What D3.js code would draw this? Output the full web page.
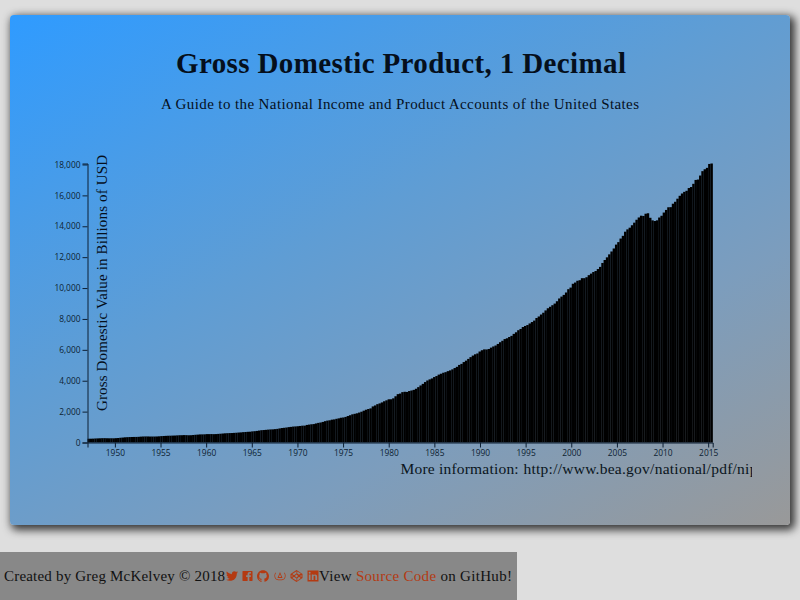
<!DOCTYPE html>
<html>
<head>
<meta charset="utf-8">
<script src="https://d3js.org/d3.v7.min.js"></script>
<style>
html,body{margin:0;padding:0;width:800px;height:600px;overflow:hidden;background:#dedede;}
#card{position:absolute;left:10px;top:15px;width:780px;height:510px;border-radius:4px;
 background:linear-gradient(152deg,#2f9bff 0%,#5f9dd4 42%,#7c9dbd 70%,#999 100%);
 box-shadow:3px 3px 8px 2px rgba(0,0,0,.75);}
#chart{position:absolute;left:0;top:0;}
#footer{position:absolute;left:0;top:552px;width:517px;height:48px;background:#888;
 font-family:"Liberation Serif",serif;font-size:15px;color:#111;}
#footer span.t{position:absolute;top:16px;white-space:nowrap;letter-spacing:0.2px;}
#footer span.v{letter-spacing:0.31px;}
#footer a{color:#b43a12;text-decoration:none;}
#footer svg{position:absolute;fill:#b43a12;}
</style>
</head>
<body>
<div id="card"></div>
<svg id="chart" width="800" height="600"></svg>
<div id="footer"></div>
<script>
const titleText = "Gross Domestic Product, 1 Decimal";
const subtitleText = "A Guide to the National Income and Product Accounts of the United States";
const yLabelText = "Gross Domestic Value in Billions of USD";
const infoPrefix = "More information:";
const infoUrl = "http://www.bea.gov/national/pdf/nipaguid.pdf";
const firstQuarter = "1947-01-01";
const gdpValues = [
243.1,246.3,250.1,260.3,266.2,272.9,279.5,280.7,275.4,271.7,273.3,271.0,
281.2,290.7,308.5,320.3,336.4,344.5,351.8,356.6,360.2,361.4,368.1,381.2,
388.5,392.3,391.7,386.5,385.9,386.7,391.6,400.3,413.8,422.2,430.9,437.8,
440.5,446.8,452.0,461.3,470.6,472.8,480.3,475.7,468.4,472.8,486.7,500.4,
511.1,524.2,525.2,529.4,543.3,542.7,546.0,541.1,545.9,557.4,568.2,581.6,
595.2,602.6,609.6,613.1,622.7,631.8,645.0,654.8,671.1,680.8,692.8,698.3,
719.2,732.4,750.2,773.1,797.3,807.2,820.8,834.9,846.0,851.1,866.6,883.2,
911.1,936.3,952.3,970.1,995.4,1011.4,1032.0,1040.7,1053.5,1070.1,1088.5,1091.5,
1137.8,1159.4,1180.3,1193.6,1233.8,1270.1,1293.8,1332.0,1380.7,1417.6,1436.8,1479.1,
1494.7,1534.2,1563.4,1603.0,1619.6,1656.4,1713.8,1765.9,1824.5,1856.9,1890.5,1938.4,
1992.5,2060.2,2122.4,2168.7,2208.7,2336.6,2398.9,2482.2,2531.6,2595.9,2670.4,2730.7,
2796.5,2799.9,2860.0,2993.5,3131.8,3167.3,3261.2,3283.5,3273.8,3331.3,3367.1,3407.8,
3480.3,3583.8,3692.3,3796.1,3912.8,4015.0,4087.4,4147.6,4237.0,4302.3,4394.6,4453.1,
4516.3,4555.2,4619.6,4669.4,4736.2,4821.5,4900.5,5022.7,5090.6,5207.7,5299.5,5412.7,
5527.4,5628.4,5711.6,5763.4,5890.8,5974.7,6029.5,6023.3,6054.9,6143.6,6218.4,6279.3,
6380.8,6492.3,6586.5,6697.6,6748.2,6829.6,6904.2,7032.8,7136.3,7269.8,7352.3,7476.7,
7545.3,7604.9,7706.5,7799.5,7893.1,8061.5,8159.0,8287.1,8402.1,8551.9,8691.8,8788.3,
8889.7,8994.7,9146.5,9325.7,9447.1,9557.0,9712.3,9926.1,10031.0,10278.3,10357.4,10472.3,
10508.1,10638.4,10639.5,10701.3,10834.4,10934.8,11037.1,11103.8,11230.1,11370.7,11625.1,11816.8,
11988.4,12181.4,12367.7,12562.2,12813.7,12974.1,13205.4,13381.6,13648.9,13799.8,13908.5,14066.4,
14233.2,14422.3,14569.7,14685.3,14668.4,14813.0,14843.0,14549.9,14383.9,14340.4,14384.1,14566.5,
14681.1,14888.6,15057.7,15230.2,15238.4,15460.9,15587.1,15785.3,15973.9,16121.9,16227.9,16297.3,
16475.4,16541.4,16749.3,16999.9,17025.2,17285.6,17569.4,17692.2,17783.6,18034.8,18064.7
];

const start = new Date(firstQuarter + "T00:00:00");
const dates = gdpValues.map((_, i) => d3.timeMonth.offset(start, i * 3));

const svg = d3.select("#chart");
const plotLeft = 87.5, plotRight = 712.7, plotTop = 163.5, plotBottom = 442.5;

const x = d3.scaleTime().domain([dates[0], dates[dates.length - 1]]).range([plotLeft, plotRight]);
const band = d3.scaleBand().domain(dates).range([plotLeft, plotRight]);
const y = d3.scaleLinear().domain([0, d3.max(gdpValues)]).range([plotBottom, plotTop]);

svg.append("g").selectAll("rect").data(gdpValues).join("rect")
  .attr("x", (d, i) => band(dates[i]))
  .attr("y", d => y(d))
  .attr("width", band.bandwidth() + 0.15)
  .attr("height", d => plotBottom - y(d))
  .attr("fill", "#000");

const xAxis = svg.append("g").attr("transform", `translate(0,${plotBottom})`)
  .call(d3.axisBottom(x).ticks(d3.timeYear.every(5)).tickSize(5).tickPadding(3));
const yAxis = svg.append("g").attr("transform", `translate(${plotLeft},0)`)
  .call(d3.axisLeft(y).tickValues(d3.range(0, 18001, 2000)).tickSize(5).tickPadding(2));
[xAxis, yAxis].forEach(a => {
  a.attr("font-family", '"Open Sans",sans-serif').attr("font-size", 8.4);
  a.selectAll("text").attr("fill", "#0d1f33");
  a.selectAll("path,line").attr("stroke", "#0d1f33");
});

const serif = '"Liberation Serif",serif';
svg.append("text").text(titleText).attr("x", 401).attr("y", 72.5)
  .attr("text-anchor", "middle").attr("font-family", serif).attr("font-weight", "bold")
  .attr("font-size", 29).attr("fill", "#050f1c").attr("textLength", 450);
svg.append("text").text(subtitleText).attr("x", 400).attr("y", 108.5)
  .attr("text-anchor", "middle").attr("font-family", serif)
  .attr("font-size", 15).attr("fill", "#050f1c").attr("textLength", 478);
svg.append("text").text(yLabelText)
  .attr("transform", "translate(106.5,283) rotate(-90)")
  .attr("text-anchor", "middle").attr("font-family", serif)
  .attr("font-size", 15).attr("fill", "#050f1c").attr("textLength", 256);
const clip = svg.append("clipPath").attr("id", "infoClip");
clip.append("rect").attr("x", 300).attr("y", 450).attr("width", 452).attr("height", 40);
const info = svg.append("text").attr("y", 474).attr("clip-path", "url(#infoClip)")
  .attr("font-family", serif).attr("font-size", 15.5).attr("fill", "#0a1520");
info.append("tspan").attr("x", 400.5).attr("letter-spacing", 0.2).text(infoPrefix);
info.append("tspan").attr("x", 523.5).attr("letter-spacing", 0.25).text(infoUrl);

// footer
const footer = d3.select("#footer");
footer.append("span").attr("class", "t").style("left", "4px")
  .text("Created by Greg McKelvey © 2018");
const view = footer.append("span").attr("class", "t v").style("left", "319px");
view.append("span").text("View ");
view.append("a").text("Source Code");
view.append("span").text(" on GitHub!");

const icons = [
 {x:226,w:12,vb:"0 0 512 512",d:"M459.37 151.716c.325 4.548.325 9.097.325 13.645 0 138.72-105.583 298.558-298.558 298.558-59.452 0-114.68-17.219-161.137-47.106 8.447.974 16.568 1.299 25.34 1.299 49.055 0 94.213-16.568 130.274-44.832-46.132-.975-84.792-31.188-98.112-72.772 6.498.974 12.995 1.624 19.818 1.624 9.421 0 18.843-1.3 27.614-3.573-48.081-9.747-84.143-51.98-84.143-102.985v-1.299c13.969 7.797 30.214 12.67 47.431 13.319-28.264-18.843-46.781-51.005-46.781-87.391 0-19.492 5.197-37.36 14.294-52.954 51.655 63.675 129.3 105.258 216.365 109.807-1.624-7.797-2.599-15.918-2.599-24.04 0-57.828 46.782-104.934 104.934-104.934 30.213 0 57.502 12.67 76.67 33.137 23.715-4.548 46.456-13.32 66.599-25.34-7.798 24.366-24.366 44.833-46.132 57.827 21.117-2.273 41.584-8.122 60.426-16.243-14.292 20.791-32.161 39.308-52.628 54.253z"},
 {x:242,w:11,vb:"0 0 24 24",d:"M2 1h20a1 1 0 0 1 1 1v20a1 1 0 0 1-1 1h-6v-9h3l.5-3.5H16V8.5c0-1 .4-1.7 1.8-1.7h1.9V3.6c-.5-.1-1.6-.2-2.8-.2-2.8 0-4.7 1.7-4.7 4.8v2.3H9V14h3.2v9H2a1 1 0 0 1-1-1V2a1 1 0 0 1 1-1z"},
 {x:257,w:12,vb:"0 0 24 24",d:"M12 .5C5.4.5 0 5.9 0 12.5c0 5.3 3.4 9.8 8.2 11.4.6.1.8-.3.8-.6v-2.2c-3.3.7-4-1.4-4-1.4-.5-1.4-1.3-1.8-1.3-1.8-1.1-.7.1-.7.1-.7 1.2.1 1.8 1.2 1.8 1.2 1.1 1.8 2.8 1.3 3.5 1 .1-.8.4-1.3.8-1.6-2.7-.3-5.5-1.3-5.5-5.9 0-1.3.5-2.4 1.2-3.2-.1-.3-.5-1.5.1-3.2 0 0 1-.3 3.3 1.2a11.5 11.5 0 0 1 6 0C17.3 5 18.3 5.3 18.3 5.3c.7 1.7.2 2.9.1 3.2.8.8 1.2 1.9 1.2 3.2 0 4.6-2.8 5.6-5.5 5.9.4.4.8 1.1.8 2.2v3.3c0 .3.2.7.8.6A12 12 0 0 0 24 12.5C24 5.9 18.6.5 12 .5z"},
 {x:273,w:14,vb:"0 0 28 24",d:"M14 4l5 12H9zM14 8l-2.4 6h4.8zM5 5C2 8 2 15 5 18c2 2 4 2.5 9 2.5s7-.5 9-2.5c3-3 3-10 0-13l-1 1c2.400 2.500 2.400 8.500 0 11-1.500 1.500-3.500 2-8 2s-6.500-.5-8-2c-2.400-2.500-2.400-8.500 0-11z"},
 {x:290,w:13,vb:"0 0 24 24",d:"M12 0L24 8v8L12 24 0 16V8zM12 2.600L3.500 8 7 10.400l5-3.400zM13.500 2.800V7l3.600 2.400 3.400-2.300zM2 9.800v4.400L5.200 12zM22 9.800L18.800 12 22 14.200zM12 9l-3.300 3 3.300 3 3.300-3zM7 13.600L3.500 16l8.500 5.500V17zM17 13.600L13.500 17v4.300L20.500 16z"},
 {x:307,w:12,vb:"0 0 24 24",d:"M1 1h22v22H1zM3.500 9v11h3.600V9zM5.300 3.700a2 2 0 1 0 0 4 2 2 0 0 0 0-4zM9.500 9v11h3.600v-5.800c0-1.500.6-2.500 1.900-2.500s1.700 1 1.700 2.500V20h3.600v-6.500c0-3.200-1.700-4.700-4-4.700-1.500 0-2.600.7-3.200 1.700V9z"}
];
const fsvg = footer.selectAll("svg").data(icons).join("svg")
  .attr("width", d => d.w).attr("height", 12).attr("viewBox", d => d.vb)
  .style("left", d => d.x + "px").style("top", "18px");
fsvg.append("path").attr("d", d => d.d).attr("fill-rule", "evenodd");
</script>
</body>
</html>
